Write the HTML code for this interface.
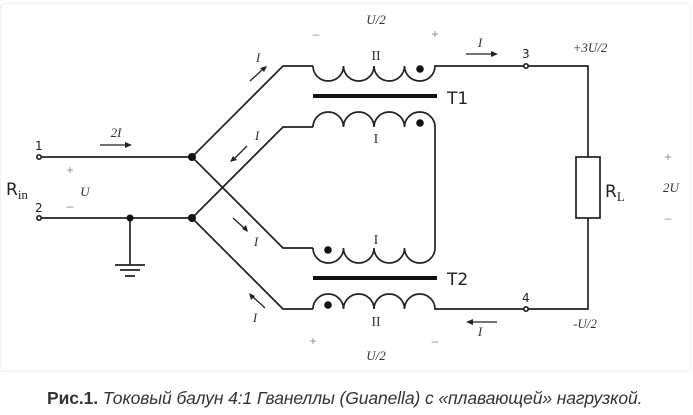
<!DOCTYPE html>
<html><head><meta charset="utf-8"><style>
body{margin:0;background:#fff;width:693px;height:415px;overflow:hidden}
svg{position:absolute;left:0;top:0}
.cap{position:absolute;left:47px;top:388px;font-family:"Liberation Sans",sans-serif;font-size:17.5px;color:#333;white-space:nowrap;letter-spacing:-0.1px}
</style></head><body>
<svg width="693" height="415" viewBox="0 0 693 415">
<rect x="0.5" y="3.5" width="690" height="368" rx="4" fill="none" stroke="#eee"/>
<g stroke="#222" stroke-width="1.7" fill="none">
<path d="M41 157H192L283 66H313"/>
<path d="M192 157L283 248H313"/>
<path d="M41 218H192L283 127H313"/>
<path d="M192 218L283 309H313"/>
<path d="M130 218V265"/>
<path d="M313 66a15.25 15 0 0 0 30.5 0a15.25 15 0 0 0 30.5 0a15.25 15 0 0 0 30.5 0a15.25 15 0 0 0 30.5 0H524"/>
<path d="M313 127a15.25 15 0 0 1 30.5 0a15.25 15 0 0 1 30.5 0a15.25 15 0 0 1 30.5 0a15.25 15 0 0 1 30.5 0V248"/>
<path d="M313 248a15.25 15 0 0 0 30.5 0a15.25 15 0 0 0 30.5 0a15.25 15 0 0 0 30.5 0a15.25 15 0 0 0 30.5 0"/>
<path d="M313 309a15.25 15 0 0 1 30.5 0a15.25 15 0 0 1 30.5 0a15.25 15 0 0 1 30.5 0a15.25 15 0 0 1 30.5 0H524"/>
<path d="M528 66H588V157M588 218V309H528"/>
<rect x="576" y="157" width="24" height="61"/>
<circle cx="526" cy="66" r="2.2" fill="#fff"/>
<circle cx="526" cy="309" r="2.2" fill="#fff"/>
<circle cx="39" cy="157" r="2.2" fill="#fff"/>
<circle cx="39" cy="218" r="2.2" fill="#fff"/>
<path d="M115 265H145M120 270H140M125 276H135"/>
</g>
<g stroke="#111" stroke-width="4"><path d="M313 96H437M313 278H437"/></g>
<g fill="#111">
<circle cx="192" cy="157" r="4"/><circle cx="192" cy="218" r="4"/><circle cx="130" cy="218" r="3.5"/>
<circle cx="420" cy="69" r="3.8"/><circle cx="420" cy="123" r="3.8"/>
<circle cx="328" cy="250" r="3.8"/><circle cx="328" cy="305" r="3.8"/>
</g>
<g stroke="#222" stroke-width="1.3">
<path d="M100 145H127M466 54H493M497 322H470"/>
<path d="M250 81L262 70M247 146L235 158M233 218L244 228M265 308L253 297"/>
</g>
<g fill="#222">
<path d="M132 145l-7-3v6z"/><path d="M498 54l-7-3v6z"/><path d="M466 322l7-3v6z"/>
<path d="M267 66l-7 2 4 4z"/><path d="M230 162l7-2-4-4z"/><path d="M248 232l-2-7-4 4z"/><path d="M249 293l2 7 4-4z"/>
</g>
<g font-family="Liberation Serif,serif" font-style="italic" font-size="13" fill="#333" text-anchor="middle">
<text x="376" y="24">U/2</text><text x="376" y="360">U/2</text>
<text x="480" y="47">I</text><text x="480" y="336">I</text>
<text x="590" y="52">+3U/2</text><text x="585" y="328">-U/2</text>
<text x="671" y="192">2U</text>
<text x="116" y="137">2I</text><text x="85" y="196">U</text>
<text x="258" y="62">I</text><text x="257" y="140">I</text><text x="256" y="246">I</text><text x="255" y="322">I</text>
</g>
<g font-family="Liberation Serif,serif" font-size="14" fill="#333" text-anchor="middle">
<text x="376" y="60">II</text><text x="376" y="143">I</text><text x="376" y="244">I</text><text x="376" y="326">II</text>
</g>
<g font-family="Liberation Sans,sans-serif" font-size="12" fill="#888" text-anchor="middle">
<text x="316" y="38">–</text><text x="435" y="38">+</text><text x="313" y="345">+</text><text x="435" y="345">–</text>
<text x="668" y="161">+</text><text x="668" y="222">–</text><text x="70" y="174">+</text><text x="70" y="210">–</text>
</g>
<g font-family="DejaVu Sans,sans-serif" fill="#222">
<text x="447" y="104" font-size="17">T1</text><text x="447" y="285" font-size="17">T2</text>
<text x="605" y="197" font-size="17">R<tspan font-family="Liberation Serif,serif" font-size="13" dy="4">L</tspan></text>
<text x="6" y="195" font-size="17">R<tspan font-family="Liberation Serif,serif" font-size="13" dy="4">in</tspan></text>
<text x="35" y="150" font-size="12">1</text><text x="35" y="212" font-size="12">2</text>
<text x="522" y="58" font-size="12">3</text><text x="522" y="302" font-size="12">4</text>
</g>
</svg>
<div class="cap"><b>Рис.1.</b> <i>Токовый балун 4:1 Гванеллы (Guanella) с «плавающей» нагрузкой.</i></div>
</body></html>
